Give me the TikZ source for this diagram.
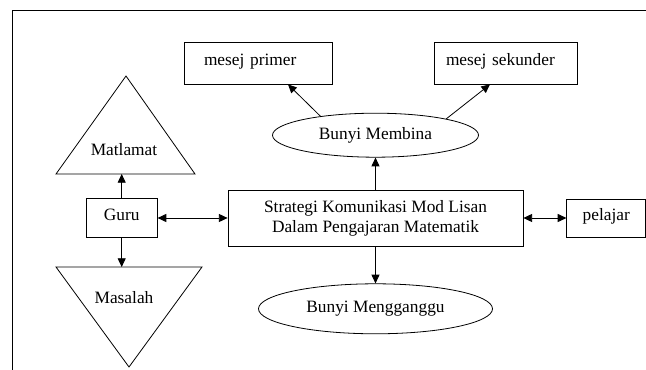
\documentclass[tikz,border=0pt]{standalone}
\usepackage{fontspec}
\setmainfont{Liberation Serif}
\usetikzlibrary{arrows.meta,positioning,shapes.geometric}
\begin{document}
\begin{tikzpicture}[x=0.75pt,y=-0.75pt,font=\fontsize{13}{15}\selectfont,line width=0.6pt]
      \tikzstyle{box}=[rectangle,draw,inner sep=0pt,text height=1.8ex,text depth=1ex]
      \tikzstyle{oval}=[ellipse,draw,inner sep=0pt]
      \tikzstyle{ar}=[-{Triangle[length=6.5pt,width=6pt]}]
      \tikzstyle{dar}=[{Triangle[length=6.5pt,width=6pt]}-{Triangle[length=6.5pt,width=6pt]}]
      \useasboundingbox (0,0) rectangle (646,370);
      \draw (12,370) -- (12,10) -- (646,10);
      \node[draw,align=center,minimum width=221.25pt,minimum height=42pt] (strat) at (375.5,218) {Strategi Komunikasi Mod Lisan\\Dalam Pengajaran Matematik};
      \node[oval,above=24pt of strat,minimum width=154.5pt,minimum height=33pt] (memb) {Bunyi Membina};
      \node[oval,below=27.75pt of strat,minimum width=175.5pt,minimum height=37.5pt] (meng) {Bunyi Mengganggu};
      \node[box,left=52.5pt of strat,minimum width=53.25pt,minimum height=29.25pt] (guru) {Guru};
      \node[box,right=32.25pt of strat,minimum width=59.25pt,minimum height=28.5pt] (pel) {pelajar};
      \node[box,inner xsep=15pt,text width=81pt,align=left,minimum height=31.5pt] (prim) at (258,63) {mesej primer};
      \node[box,inner xsep=9pt,text width=89.25pt,align=left,minimum height=31.5pt] (sek) at (505.5,63) {mesej sekunder};
      % segitiga
      \draw (56,174) -- (126,76) -- (195,174) -- cycle;
      \draw (56,267) -- (202,267) -- (129,367) -- cycle;
      \node (matl) at (124,150) {Matlamat};
      \node (masl) at (124,298) {Masalah};
      \coordinate (mtb) at (125,174);
      \coordinate (msb) at (125,267);
      \draw[ar] (strat) -- (memb);
      \draw[ar] (strat) -- (meng);
      \draw[ar] (memb.161) -- ([xshift=22.5pt]prim.south);
      \draw[ar] (memb.13) -- ([xshift=-11.6pt]sek.south);
      \draw[dar] (guru) -- (strat);
      \draw[dar] (strat) -- (pel);
      \draw[ar] (guru.north) -- (guru.north |- mtb);
      \draw[ar] (guru.south) -- (guru.south |- msb);
    \end{tikzpicture}
\end{document}
